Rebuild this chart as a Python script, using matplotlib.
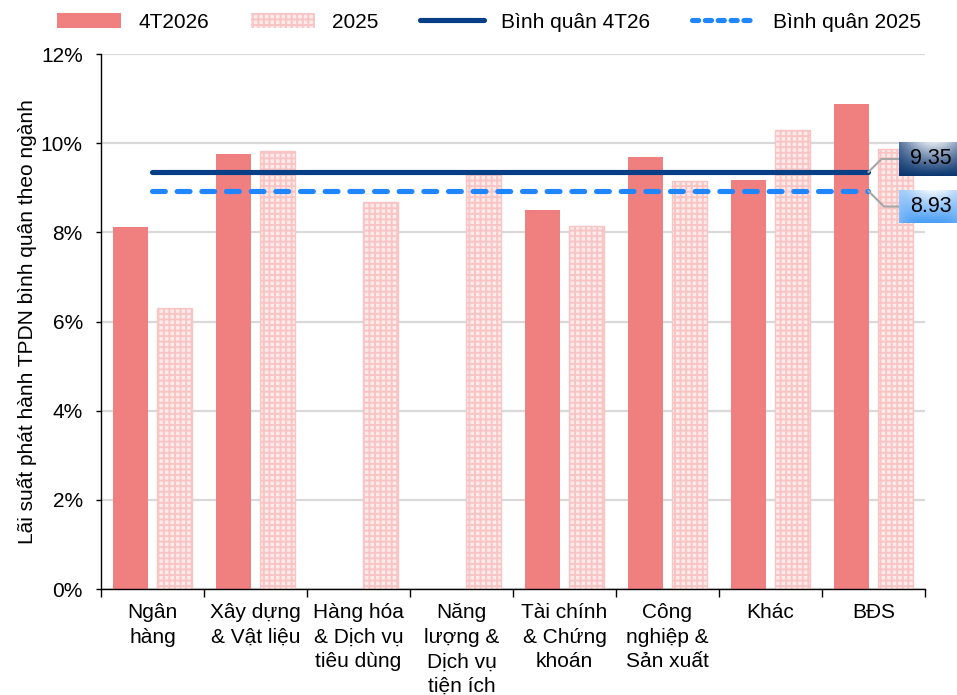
import numpy as np
import matplotlib
matplotlib.use('Agg')
import matplotlib.pyplot as plt
from matplotlib.lines import Line2D
from matplotlib.patches import Patch, ConnectionPatch
from matplotlib.ticker import FuncFormatter, FixedLocator
from matplotlib.colors import to_rgb

plt.rcParams['font.family'] = ['Liberation Sans', 'DejaVu Sans']
plt.rcParams['font.size'] = 15
plt.rcParams['hatch.linewidth'] = 1.4

# Lãi suất phát hành TPDN bình quân theo ngành (%)
sectors = ["Ngân\nhàng", "Xây dựng\n& Vật liệu", "Hàng hóa\n& Dịch vụ\ntiêu dùng",
           "Năng\nlượng &\nDịch vụ\ntiện ích", "Tài chính\n& Chứng\nkhoán",
           "Công\nnghiệp &\nSản xuất", "Khác", "BĐS"]
rate_4t2026 = [8.12, 9.75, np.nan, np.nan, 8.50, 9.69, 9.17, 10.87]
rate_2025 = [6.30, 9.82, 8.68, 9.33, 8.14, 9.15, 10.29, 9.87]
avg_4t26 = 9.35
avg_2025 = 8.93
yticks = [0, 2, 4, 6, 8, 10, 12]

coral = '#f08080'
navy = '#063f85'
blue = '#1f86ff'

fig = plt.figure(figsize=(9.57, 6.95), dpi=100)
ax = fig.add_axes([0.1055, 0.1525, 0.861, 0.7698])

x = np.arange(len(sectors))
w = 0.34
ax.bar(x - 0.21, rate_4t2026, w, color=coral, zorder=2)
ax.bar(x + 0.21, rate_2025, w, facecolor='#fdeaea', edgecolor='#f8c4c4',
       hatch='+++', linewidth=1.0, zorder=2)

# sector averages, drawn across the first to the last category
xs = [x[0], x[-1] - 0.05]
ax.plot(xs, [avg_4t26] * 2, color=navy, lw=3.7, solid_capstyle='round', zorder=3)
ax.plot(xs, [avg_2025] * 2, color=blue, lw=3.7, dash_capstyle='round',
        linestyle=(0, (2.5, 2.3)), zorder=3)

ax.set_xlim(-0.5, len(sectors) - 0.5)
ax.set_ylim(0, 12)
ax.set_yticks(yticks)
ax.yaxis.set_major_formatter(FuncFormatter(lambda v, p: f"{v:.0f}%"))
ax.set_xticks(x)
ax.set_xticklabels(sectors, linespacing=1.38)
ax.xaxis.set_minor_locator(FixedLocator(np.arange(-0.5, len(sectors), 1.0)))
ax.tick_params(axis='x', which='major', length=0, pad=10)
ax.tick_params(axis='x', which='minor', length=6, width=1, direction='out')
ax.tick_params(axis='y', length=3.6, width=1, direction='out', pad=9.5)
ax.grid(axis='y', color='#d9d9d9', lw=1.6, zorder=0)
ax.set_axisbelow(True)
for s in ['top', 'right']:
    ax.spines[s].set_visible(False)
for s in ['left', 'bottom']:
    ax.spines[s].set_color('black')
    ax.spines[s].set_linewidth(1)

ax.set_ylabel("Lãi suất phát hành TPDN bình quân theo ngành")
ax.yaxis.label.set_verticalalignment('center')
ax.yaxis.set_label_coords(-0.09, 0.5)

handles = [
    Patch(facecolor=coral, edgecolor='none'),
    Patch(facecolor='#fdeaea', edgecolor='#f8c4c4', hatch='+++', linewidth=0),
    Line2D([], [], color=navy, lw=3.7, solid_capstyle='round'),
    Line2D([], [], color=blue, lw=3.7, dash_capstyle='round', linestyle=(0, (1.2, 1.3))),
]
labels = ["4T2026", "2025", "Bình quân 4T26", "Bình quân 2025"]
fig.legend(handles, labels, loc='center', bbox_to_anchor=(0.511, 0.968), ncol=4,
           frameon=False, handlelength=3.1, handletextpad=0.8, columnspacing=2.0)


def gradient_box(rect, top, bottom, edge, text):
    bax = fig.add_axes(rect, zorder=5)
    h, wd = 40, 70
    yy, xx = np.mgrid[0:1:complex(0, h), 0:1:complex(0, wd)]
    glow = np.exp(-((xx - 0.6) / 0.6) ** 2) * (1 - yy) ** 1.1
    base = np.array(to_rgb(bottom))[None, None, :] * np.ones((h, wd, 1))
    edge_mix = np.clip(np.abs(xx - 0.55) * 1.6, 0, 1)[..., None] ** 3
    base = base * (1 - edge_mix) + np.array(to_rgb(edge)) * edge_mix
    img = base * (1 - glow[..., None]) + np.array(to_rgb(top)) * glow[..., None]
    bax.imshow(img, aspect='auto', extent=(0, 1, 0, 1), interpolation='bilinear')
    bax.set_xlim(0, 1)
    bax.set_ylim(0, 1)
    bax.axis('off')
    bax.text(0.55, 0.5, text, ha='center', va='center', fontsize=15.5, color='black')
    return bax


box1 = gradient_box([0.9394, 0.7468, 0.0606, 0.0489], '#dfe5ee', '#0a3670', '#0a3670',
                    f"{avg_4t26:.2f}")
box2 = gradient_box([0.9394, 0.6791, 0.0606, 0.0475], '#f4f9ff', '#4a9ef5', '#8cc2fa',
                    f"{avg_2025:.2f}")

for bax, val, ang in [(box1, avg_4t26, 45), (box2, avg_2025, -45)]:
    con = ConnectionPatch(xyA=(xs[1], val), coordsA=ax.transData,
                          xyB=(0, 0.5), coordsB=bax.transAxes,
                          arrowstyle='-', color='#a6a6a6', lw=1.5,
                          connectionstyle=f"angle,angleA={ang},angleB=0,rad=0")
    con.set_zorder(4)
    fig.add_artist(con)

fig.savefig('out.png', dpi=100)
